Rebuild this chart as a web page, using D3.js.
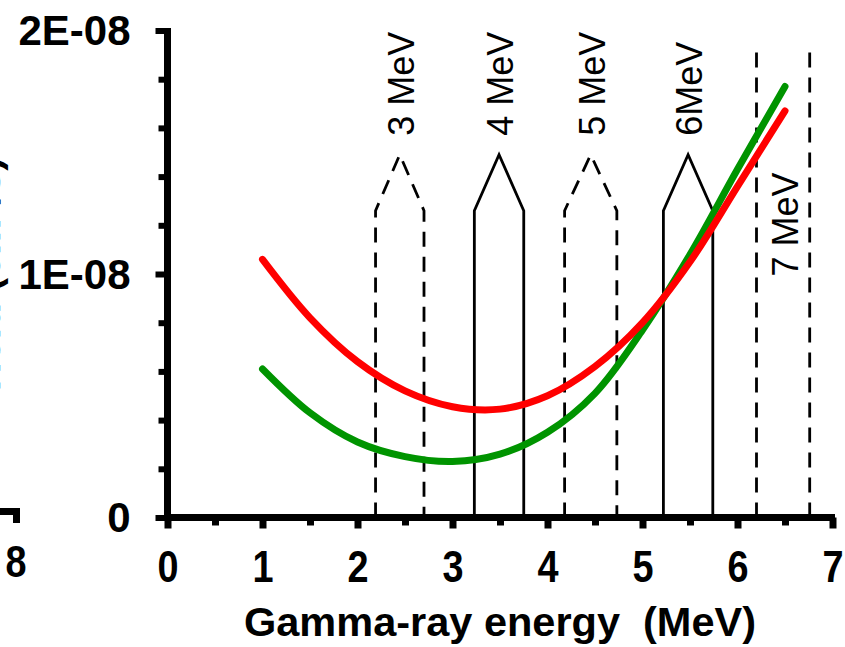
<!DOCTYPE html>
<html>
<head>
<meta charset="utf-8">
<script src="https://cdn.jsdelivr.net/npm/d3@7/dist/d3.min.js"></script>
<style>
  html, body { margin: 0; padding: 0; background: #fff; }
  svg { display: block; }
  text { font-family: "Liberation Sans", Arial, sans-serif; }
</style>
</head>
<body>
<svg id="chart" width="845" height="647"></svg>
<script>
// Gamma-ray energy grid (MeV)
const energies = [1, 1.5, 2, 2.5, 3, 3.5, 4, 4.5, 5, 5.5, 6, 6.5];
// Two response curves, in units of 1E-08
const redSeries   = [1.06, 0.82, 0.64, 0.52, 0.455, 0.445, 0.50, 0.62, 0.80, 1.05, 1.36, 1.67];
const greenSeries = [0.61, 0.43, 0.31, 0.25, 0.23, 0.26, 0.35, 0.51, 0.77, 1.08, 1.43, 1.77];
const unit = 1e-8;

// Energy windows (MeV): lower / upper edge, marker shoulder and tip (1E-08 units)
const windowLabels = ["3 MeV", "4 MeV", "5 MeV", "6MeV", "7 MeV"];
const windowLo     = [2.19, 3.23, 4.18, 5.22, 6.20];
const windowHi     = [2.70, 3.75, 4.73, 5.74, 6.76];
const windowDashed = [true, false, true, false, true];
const windowShoulder = [1.26, 1.26, 1.26, 1.26, 1.91];
const windowTip      = [1.49, 1.49, 1.49, 1.49, null];

// Axis ticks
const xMajorTicks = [0, 1, 2, 3, 4, 5, 6, 7];
const xMinorTicks = [0.5, 1.5, 2.5, 3.5, 4.5, 5.5, 6.5];
const yMajorTicks = [0, 1e-8, 2e-8];
const yMajorLabels = ["0", "1E-08", "2E-08"];
const yMinorTicks = [2e-9, 4e-9, 6e-9, 8e-9, 1.2e-8, 1.4e-8, 1.6e-8, 1.8e-8];

const svg = d3.select("#chart");
const x = d3.scaleLinear().domain([0, 7]).range([167.5, 832.5]);
const y = d3.scaleLinear().domain([0, 2e-8]).range([517.5, 30.5]);

// Neighbouring panel: right end of its x axis and last tick label
const prev = svg.append("g");
prev.append("line").attr("x1", -40).attr("x2", 19).attr("y1", 511.5).attr("y2", 511.5)
  .attr("stroke", "#000").attr("stroke-width", 7);
prev.append("line").attr("x1", 16.5).attr("x2", 16.5).attr("y1", 508).attr("y2", 523)
  .attr("stroke", "#000").attr("stroke-width", 7);
prev.append("text").attr("transform", "translate(16,577) scale(0.85,1)")
  .attr("text-anchor", "middle").attr("font-weight", "bold").attr("font-size", 44.5)
  .text("8");

// Y-axis title (runs past the left edge)
svg.append("text")
  .attr("transform", "translate(0,157) rotate(-90)")
  .attr("text-anchor", "end").attr("font-weight", "bold").attr("font-size", 41)
  .text("Yield (cm²/s)");

// Energy-window markers
const winG = svg.append("g").attr("fill", "none").attr("stroke", "#000").attr("stroke-width", 2.8);
windowLabels.forEach((lab, i) => {
  const lo = x(windowLo[i]), hi = x(windowHi[i]), mid = (lo + hi) / 2;
  const base = y(0), sh = y(windowShoulder[i] * unit);
  const dash = windowDashed[i] ? "15,10" : null;
  if (windowTip[i] !== null) {
    const tip = y(windowTip[i] * unit);
    const p = d3.path();
    p.moveTo(lo, base); p.lineTo(lo, sh); p.lineTo(mid, tip); p.lineTo(hi, sh); p.lineTo(hi, base);
    winG.append("path").attr("d", p.toString()).attr("stroke-dasharray", dash);
    svg.append("text")
      .attr("transform", `translate(${mid + 14},${tip - 19}) rotate(-90)`)
      .attr("font-size", 36).text(lab);
  } else {
    [lo, hi].forEach(px => {
      winG.append("line").attr("x1", px).attr("x2", px).attr("y1", base).attr("y2", sh)
        .attr("stroke-dasharray", dash);
    });
    svg.append("text")
      .attr("transform", `translate(${mid + 15},${y(0.99 * unit)}) rotate(-90)`)
      .attr("font-size", 36).text(lab);
  }
});

// Curves
const line = d3.line()
  .x(d => x(d[0])).y(d => y(d[1] * unit))
  .curve(d3.curveCatmullRom.alpha(0.5));
svg.append("path").datum(energies.map((e, i) => [e, greenSeries[i]]))
  .attr("d", line).attr("fill", "none").attr("stroke", "#009400")
  .attr("stroke-width", 7).attr("stroke-linecap", "round");
svg.append("path").datum(energies.map((e, i) => [e, redSeries[i]]))
  .attr("d", line).attr("fill", "none").attr("stroke", "#ff0000")
  .attr("stroke-width", 7).attr("stroke-linecap", "round");

// X axis
const xAxisG = svg.append("g").attr("transform", `translate(0,${y(0)})`);
xAxisG.call(d3.axisBottom(x).tickValues(xMinorTicks).tickSize(8).tickSizeOuter(0).tickFormat(""));
xAxisG.call(g => g.select(".domain").remove());
const xMajG = svg.append("g").attr("transform", `translate(0,${y(0)})`);
xMajG.call(d3.axisBottom(x).tickValues(xMajorTicks).tickSize(11).tickSizeOuter(0).tickFormat(d3.format("d")));
[xAxisG, xMajG].forEach(g => g.selectAll(".tick line").attr("stroke", "#000").attr("stroke-width", 7));
xMajG.select(".domain").remove();
xMajG.selectAll(".tick text")
  .attr("y", null).attr("dy", null)
  .attr("transform", "translate(0,64.5) scale(0.85,1)")
  .attr("font-size", 44.5).attr("font-weight", "bold")
  .attr("font-family", "Liberation Sans, Arial, sans-serif").attr("fill", "#000");
svg.append("line").attr("x1", 164).attr("x2", 835).attr("y1", y(0)).attr("y2", y(0))
  .attr("stroke", "#000").attr("stroke-width", 7);

// Y axis
const yMinG = svg.append("g").attr("transform", `translate(${x(0)},0)`);
yMinG.call(d3.axisLeft(y).tickValues(yMinorTicks).tickSize(9).tickSizeOuter(0).tickFormat(""));
yMinG.select(".domain").remove();
const yMajG = svg.append("g").attr("transform", `translate(${x(0)},0)`);
yMajG.call(d3.axisLeft(y).tickValues(yMajorTicks).tickSize(12).tickSizeOuter(0)
  .tickFormat((d, i) => yMajorLabels[i]));
yMajG.select(".domain").remove();
[yMinG, yMajG].forEach(g => g.selectAll(".tick line").attr("stroke", "#000").attr("stroke-width", 6));
yMajG.selectAll(".tick text")
  .attr("x", -37).attr("dy", null).attr("y", 14)
  .attr("font-size", 42).attr("font-weight", "bold")
  .attr("font-family", "Liberation Sans, Arial, sans-serif").attr("fill", "#000");
svg.append("line").attr("x1", x(0)).attr("x2", x(0)).attr("y1", 28).attr("y2", 521)
  .attr("stroke", "#000").attr("stroke-width", 7);

// X-axis title
svg.append("text").attr("x", 500).attr("y", 636)
  .attr("text-anchor", "middle").attr("font-weight", "bold").attr("font-size", 41.5)
  .style("white-space", "pre")
  .text("Gamma-ray energy  (MeV)");
</script>
</body>
</html>
